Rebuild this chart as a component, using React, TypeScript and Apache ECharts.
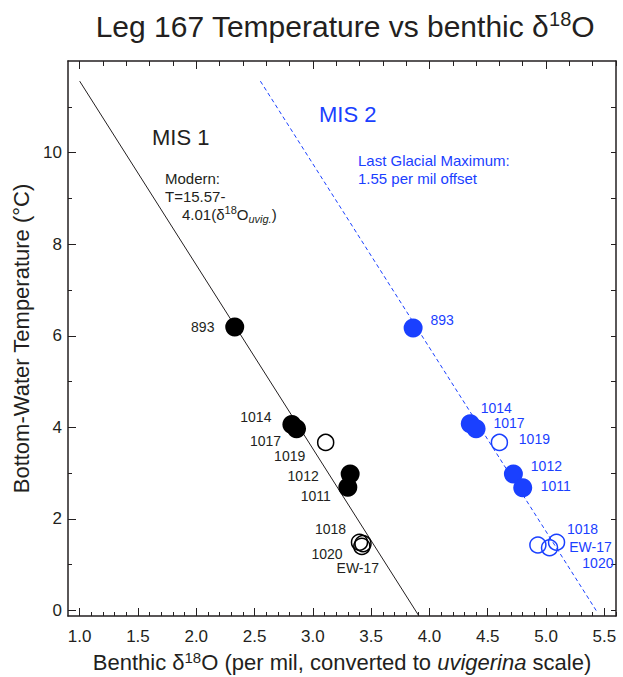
import React, { useEffect, useRef } from 'react';
import * as echarts from 'echarts';

const FONT = '"Liberation Sans", Arial, Helvetica, sans-serif';
const INK = '#231f20';
const BLUE = '#1a40ff';

// Axis tick labels
const xTickLabels = [1.0, 1.5, 2.0, 2.5, 3.0, 3.5, 4.0, 4.5, 5.0, 5.5];
const xTopMajor = [1, 2, 3, 4, 5];
const yTickLabels = [0, 2, 4, 6, 8, 10];
const yMinorTicks = [1, 3, 5, 7, 9, 11];

// MIS 1 (modern) sites
const mis1FilledSites = ['893', '1014', '1017', '1012', '1011'];
const mis1FilledD18O = [2.33, 2.82, 2.86, 3.32, 3.30];
const mis1FilledTemp = [6.19, 4.06, 3.97, 2.98, 2.69];
const mis1OpenSites = ['1019', '1018', '1020', 'EW-17'];
const mis1OpenD18O = [3.11, 3.40, 3.43, 3.42];
const mis1OpenTemp = [3.67, 1.49, 1.46, 1.40];

// MIS 2 (Last Glacial Maximum) sites
const mis2FilledSites = ['893', '1014', '1017', '1012', '1011'];
const mis2FilledD18O = [3.86, 4.35, 4.40, 4.72, 4.80];
const mis2FilledTemp = [6.17, 4.08, 3.97, 2.98, 2.68];
const mis2OpenSites = ['1019', '1018', 'EW-17', '1020'];
const mis2OpenD18O = [4.60, 5.09, 5.03, 4.93];
const mis2OpenTemp = [3.67, 1.49, 1.37, 1.43];

// Calibration lines (end points)
const mis1LineD18O = [1.0, 3.91];
const mis1LineTemp = [11.56, -0.12];
const mis2LineD18O = [2.55, 5.43];
const mis2LineTemp = [11.56, 0.0];

// label placement (pixel offsets from marker centre)
const labelOffsets: Record<string, Record<string, number[]>> = {
  mis1Filled: { '893': [-32, 0], '1014': [-36, -8], '1017': [-31, 12], '1012': [-47, 2], '1011': [-32, 9] },
  mis1Open: { '1019': [-36, 14], '1018': [-29, -13], '1020': [-36, 10], 'EW-17': [-4, 22] },
  mis2Filled: { '893': [29, -8], '1014': [26, -16], '1017': [33, -6], '1012': [33, -8], '1011': [33, -2] },
  mis2Open: { '1019': [35, -3], '1018': [26, -13], 'EW-17': [41, -1], '1020': [60, 18] },
};

const X_MIN = 0.9;
const X_MAX = 5.6;
const Y_MIN = -0.12;
const Y_MAX = 12;

function steps(a: number, b: number, s: number): number[] {
  const out: number[] = [];
  const n = Math.round((b - a) / s);
  for (let i = 0; i <= n; i++) out.push(Math.round((a + i * s) * 1000) / 1000);
  return out;
}

function buildPoints(key: string, sites: string[], xs: number[], ys: number[], color: string) {
  return sites.map((s, i) => ({
    name: s,
    value: [xs[i], ys[i]],
    label: {
      show: true,
      position: 'inside',
      offset: labelOffsets[key][s],
      formatter: s,
      color,
      opacity: 1,
      fontSize: 14,
      fontFamily: FONT,
    },
  }));
}

export default function App() {
  const ref = useRef<HTMLDivElement>(null);

  useEffect(() => {
    if (!ref.current) return;
    const chart = echarts.init(ref.current, undefined, { renderer: 'svg' });

    const tickLine = { color: INK, width: 1 };
    const frameLine = { show: true, onZero: false, lineStyle: { color: INK, width: 1.5 } };
    const noLine = { show: false, onZero: false };
    const xBase: any = {
      type: 'value', min: X_MIN, max: X_MAX, gridIndex: 0,
      splitLine: { show: false }, axisLabel: { show: false },
    };
    const yBase: any = {
      type: 'value', min: Y_MIN, max: Y_MAX, gridIndex: 0,
      splitLine: { show: false }, axisLabel: { show: false },
    };

    const option: any = {
      animation: false,
      backgroundColor: '#ffffff',
      title: {
        text: 'Leg 167 Temperature vs benthic δ{sup|18}O',
        left: 340,
        top: 4,
        textAlign: 'center',
        textStyle: {
          fontFamily: FONT,
          fontSize: 30,
          fontWeight: 'normal',
          color: INK,
          lineHeight: 34,
          rich: {
            sup: { fontSize: 20, fontFamily: FONT, color: INK, verticalAlign: 'top', lineHeight: 23 },
          },
        },
      },
      grid: { left: 68, right: 7, top: 61, bottom: 61, containLabel: false, outerBoundsMode: 'none' },
      xAxis: [
        {
          ...xBase,
          position: 'bottom',
          axisLine: frameLine,
          axisTick: { show: true, inside: true, length: 8, customValues: xTickLabels, lineStyle: tickLine },
          axisLabel: {
            show: true, customValues: xTickLabels, formatter: (v: number) => v.toFixed(1),
            margin: 12, fontSize: 17, color: INK, fontFamily: FONT,
          },
          name: 'Benthic δ{sup|18}O (per mil, converted to {it|uvigerina} scale)',
          nameLocation: 'middle',
          nameGap: 33,
          nameTextStyle: {
            fontFamily: FONT, fontSize: 22, color: INK, lineHeight: 26,
            rich: {
              sup: { fontSize: 15, fontFamily: FONT, color: INK, verticalAlign: 'top', lineHeight: 17 },
              it: { fontSize: 22, fontFamily: FONT, color: INK, fontStyle: 'italic' },
            },
          },
        },
        {
          ...xBase,
          position: 'bottom',
          axisLine: noLine,
          axisTick: { show: true, inside: true, length: 4, customValues: steps(1.0, 5.6, 0.1), lineStyle: tickLine },
        },
        {
          ...xBase,
          position: 'top',
          axisLine: frameLine,
          axisTick: { show: true, inside: true, length: 5, customValues: steps(1.0, 5.6, 0.2), lineStyle: tickLine },
        },
        {
          ...xBase,
          position: 'top',
          axisLine: noLine,
          axisTick: { show: true, inside: true, length: 8, customValues: xTopMajor, lineStyle: tickLine },
        },
      ],
      yAxis: [
        {
          ...yBase,
          position: 'left',
          axisLine: frameLine,
          axisTick: { show: true, inside: true, length: 8, customValues: yTickLabels, lineStyle: tickLine },
          axisLabel: {
            show: true, customValues: yTickLabels, margin: 6, fontSize: 17, color: INK, fontFamily: FONT,
          },
          name: 'Bottom-Water Temperature (°C)',
          nameLocation: 'middle',
          nameGap: 36,
          nameTextStyle: { fontFamily: FONT, fontSize: 22, color: INK },
        },
        {
          ...yBase,
          position: 'left',
          axisLine: noLine,
          axisTick: { show: true, inside: true, length: 4, customValues: yMinorTicks, lineStyle: tickLine },
        },
        {
          ...yBase,
          position: 'right',
          axisLine: frameLine,
          axisTick: { show: true, inside: true, length: 5, customValues: steps(0, 11, 1), lineStyle: tickLine },
        },
      ],
      series: [
        {
          type: 'line',
          name: 'MIS 1 calibration',
          xAxisIndex: 0, yAxisIndex: 0,
          data: mis1LineD18O.map((x, i) => [x, mis1LineTemp[i]]),
          symbol: 'none',
          lineStyle: { color: INK, width: 1 },
          z: 1,
        },
        {
          type: 'line',
          name: 'MIS 2 calibration',
          xAxisIndex: 0, yAxisIndex: 0,
          data: mis2LineD18O.map((x, i) => [x, mis2LineTemp[i]]),
          symbol: 'none',
          lineStyle: { color: BLUE, width: 1, type: [4, 3] },
          z: 1,
        },
        {
          type: 'scatter',
          name: 'MIS 1 filled',
          xAxisIndex: 0, yAxisIndex: 0,
          symbol: 'circle', symbolSize: 19,
          itemStyle: { color: '#000000', opacity: 1 },
          data: buildPoints('mis1Filled', mis1FilledSites, mis1FilledD18O, mis1FilledTemp, INK),
          z: 3,
        },
        {
          type: 'scatter',
          name: 'MIS 1 open',
          xAxisIndex: 0, yAxisIndex: 0,
          symbol: 'circle', symbolSize: 16,
          itemStyle: { color: 'none', borderColor: '#000000', borderWidth: 1.5, opacity: 1 },
          data: buildPoints('mis1Open', mis1OpenSites, mis1OpenD18O, mis1OpenTemp, INK),
          z: 3,
        },
        {
          type: 'scatter',
          name: 'MIS 2 filled',
          xAxisIndex: 0, yAxisIndex: 0,
          symbol: 'circle', symbolSize: 19,
          itemStyle: { color: BLUE, opacity: 1 },
          data: buildPoints('mis2Filled', mis2FilledSites, mis2FilledD18O, mis2FilledTemp, BLUE),
          z: 3,
        },
        {
          type: 'scatter',
          name: 'MIS 2 open',
          xAxisIndex: 0, yAxisIndex: 0,
          symbol: 'circle', symbolSize: 16,
          itemStyle: { color: 'none', borderColor: BLUE, borderWidth: 1.5, opacity: 1 },
          data: buildPoints('mis2Open', mis2OpenSites, mis2OpenD18O, mis2OpenTemp, BLUE),
          z: 3,
        },
      ],
      graphic: [
        {
          type: 'text', left: 152, top: 126,
          style: { text: 'MIS 1', fontFamily: FONT, fontSize: 22, fill: INK },
        },
        {
          type: 'text', left: 319, top: 103,
          style: { text: 'MIS 2', fontFamily: FONT, fontSize: 22, fill: BLUE },
        },
        {
          type: 'text', left: 165, top: 169,
          style: { text: 'Modern:\nT=15.57-', fontFamily: FONT, fontSize: 15, lineHeight: 18, fill: INK },
        },
        {
          type: 'text', left: 182, top: 204,
          style: {
            text: '4.01(δ{sup|18}O{sub|uvig.})',
            fontFamily: FONT, fontSize: 15, lineHeight: 20, fill: INK,
            rich: {
              sup: { fontSize: 11, fontFamily: FONT, fill: INK, verticalAlign: 'top', lineHeight: 12 },
              sub: { fontSize: 11, fontFamily: FONT, fill: INK, fontStyle: 'italic', verticalAlign: 'bottom', lineHeight: 12 },
            },
          },
        },
        {
          type: 'text', left: 358, top: 151,
          style: { text: 'Last Glacial Maximum:\n1.55 per mil offset', fontFamily: FONT, fontSize: 15, lineHeight: 18, fill: BLUE },
        },
      ],
    };

    chart.setOption(option);
    return () => chart.dispose();
  }, []);

  return <div ref={ref} style={{ width: 623, height: 677, position: 'absolute', left: 0, top: 0 }} />;
}
